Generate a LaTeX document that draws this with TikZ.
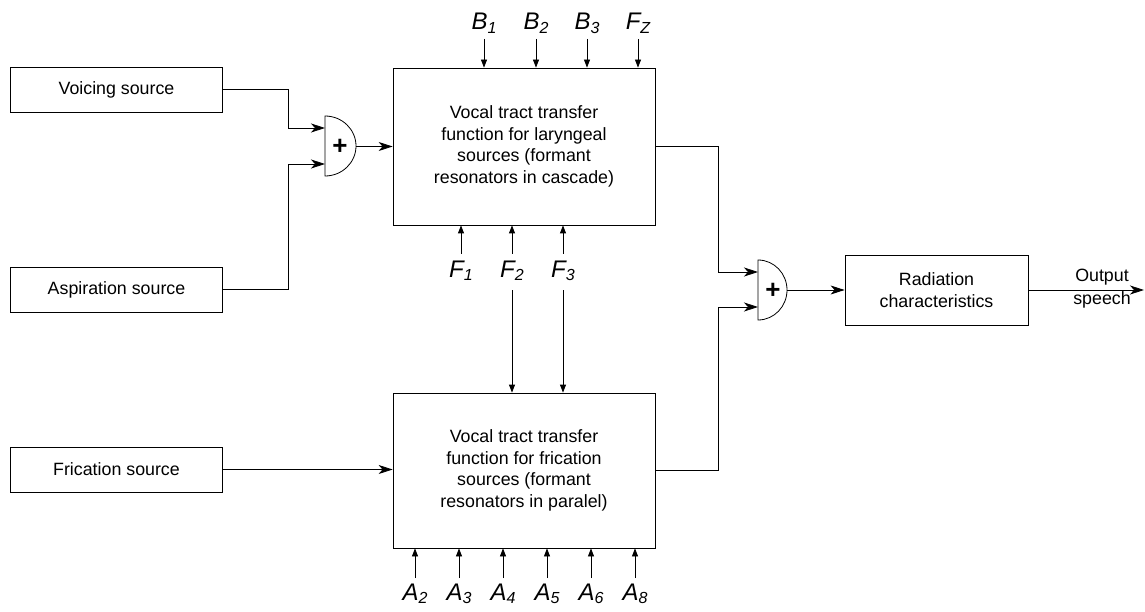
\documentclass[tikz,border=0pt]{standalone}
\usepackage{fontspec}
\setmainfont{Liberation Sans}
\usetikzlibrary{arrows.meta,calc}
% italic symbol with a lowered, smaller index
\newcommand\symlab[2]{\itshape #1\raisebox{-3.5pt}{\fontsize{16}{16}\selectfont #2}}
\begin{document}
\begin{tikzpicture}[x=1pt,y=1pt,
  box/.style={draw, line width=0.8pt, inner sep=0pt, align=center,
    font=\fontsize{17.8}{21.5}\selectfont},
  srcbox/.style={box, minimum width=212pt, minimum height=45pt},
  wire/.style={line width=0.8pt},
  big/.style={wire, -{Stealth[length=14pt,width=9pt,inset=4pt]}},
  small/.style={wire, -{Triangle[length=8pt,width=6pt]}},
  lbl/.style={inner sep=0pt, font=\fontsize{24}{24}\selectfont},
  plus/.style={inner sep=0pt, font=\fontsize{26}{26}\selectfont\bfseries}]
\useasboundingbox (0,0) rectangle (1145,-612);

% sources
\node[srcbox] (voice) at (116.5,-89.5) {Voicing source};
\node[srcbox] (asp)   at (116.5,-289.5) {Aspiration source};
\node[srcbox] (fric)  at (116.5,-469.5) {Frication source};

% vocal tract transfer functions
\node[box, minimum width=262pt, minimum height=157pt] (lar) at (524,-146.5)
  {Vocal tract transfer\\function for laryngeal\\sources (formant\\resonators in cascade)};
\node[box, minimum width=262pt, minimum height=155pt] (par) at (524,-470.5)
  {Vocal tract transfer\\function for frication\\sources (formant\\resonators in paralel)};

% radiation
\node[box, minimum width=183pt, minimum height=70pt] (rad) at (936.5,-290)
  {Radiation\\characteristics};

% first adder
\draw[wire] (325,-116) arc[start angle=90, end angle=-90, x radius=31pt, y radius=30pt] -- cycle;
\node[plus] (sum1) at (340,-147) {+};
\coordinate (s1i1) at (325,-128);
\coordinate (s1i2) at (325,-164);
\coordinate (s1o)  at (356,-146.5);

% second adder
\draw[wire] (758,-260) arc[start angle=90, end angle=-90, x radius=29pt, y radius=30pt] -- cycle;
\node[plus] (sum2) at (773,-291) {+};
\coordinate (s2i1) at (758,-272);
\coordinate (s2i2) at (758,-307);
\coordinate (s2o)  at (787,-290);

% signal flow
\draw[big] (voice.east) -| ($(s1i1)+(-37,0)$) -- (s1i1);
\draw[big] (asp.east) -| ($(s1i2)+(-37,0)$) -- (s1i2);
\draw[big] (s1o) -- (s1o -| lar.west);
\draw[big] (fric.east) -- (fric.east -| par.west);
\draw[big] (lar.east) -| ($(s2i1)+(-40,0)$) -- (s2i1);
\draw[big] (par.east) -| ($(s2i2)+(-40,0)$) -- (s2i2);
\draw[big] (s2o) -- (rad.west);
\coordinate (out) at (1144,-290);
\draw[big] (rad.east) -- (out);
\node[inner sep=0pt, align=center, font=\fontsize{17.8}{23}\selectfont] (outtxt)
  at (1102,-288.5) {Output\\speech};

% bandwidth and zero controls
\foreach \x/\s/\d in {484/B/1, 536/B/2, 587/B/3, 638/F/Z} {
  \coordinate (t\x) at (\x,-39);
  \node[lbl, anchor=base] (lt\x) at (\x,-30) {\symlab{\s}{\d}};
  \draw[small] (t\x) -- (t\x |- lar.north);
}

% formant frequency controls
\foreach \x/\d in {461/1, 512/2, 563/3} {
  \coordinate (f\x) at (\x,-254);
  \node[lbl, anchor=base] (lf\x) at (\x,-277) {\symlab{F}{\d}};
  \draw[small] (f\x) -- (f\x |- lar.south);
}
\foreach \x in {512, 563} {
  \coordinate (g\x) at (\x,-290);
  \draw[small] (g\x) -- (g\x |- par.north);
}

% amplitude controls
\foreach \x/\d in {415/2, 459/3, 503/4, 547/5, 591/6, 635/8} {
  \coordinate (a\x) at (\x,-578);
  \node[lbl, anchor=base] (la\x) at (\x,-600) {\symlab{A}{\d}};
  \draw[small] (a\x) -- (a\x |- par.south);
}
\end{tikzpicture}
\end{document}
